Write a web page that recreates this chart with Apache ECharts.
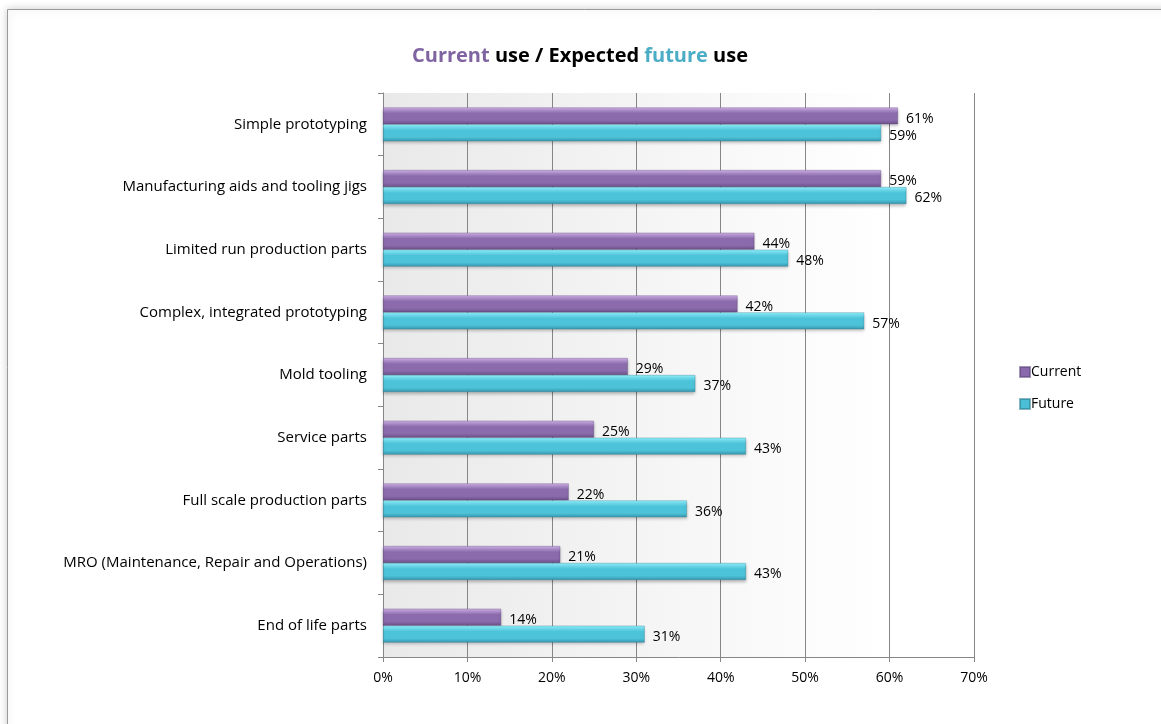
<!DOCTYPE html>
<html>
<head>
<meta charset="utf-8">
<script src="https://cdn.jsdelivr.net/npm/echarts@6/dist/echarts.min.js"></script>
<style>
  html, body { margin: 0; padding: 0; background: #ffffff; }
  #chart { width: 1161px; height: 724px; }
</style>
</head>
<body>
<div id="chart"></div>
<script>
// Survey: current vs. expected future use of additive manufacturing
const categories = [
  'Simple prototyping',
  'Manufacturing aids and tooling jigs',
  'Limited run production parts',
  'Complex, integrated prototyping',
  'Mold tooling',
  'Service parts',
  'Full scale production parts',
  'MRO (Maintenance, Repair and Operations)',
  'End of life parts'
];
const currentUse = [61, 59, 44, 42, 29, 25, 22, 21, 14];
const futureUse  = [59, 62, 48, 57, 37, 43, 36, 43, 31];
const xTicks = [0, 10, 20, 30, 40, 50, 60, 70];

const FONT = '"Open Sans", "Noto Sans", sans-serif';

function tube(top, mid, bottom) {
  return new echarts.graphic.LinearGradient(0, 0, 0, 1, [
    { offset: 0, color: top },
    { offset: 0.35, color: mid },
    { offset: 0.75, color: mid },
    { offset: 1, color: bottom }
  ]);
}

const chart = echarts.init(document.getElementById('chart'), null, { renderer: 'canvas' });

chart.setOption({
  backgroundColor: '#ffffff',
  animation: false,
  graphic: [
    {
      type: 'rect', z: -10, silent: true,
      shape: { x: 7.5, y: 9.5, width: 1200, height: 800 },
      style: { fill: '#ffffff', stroke: '#9a9a9a', lineWidth: 1,
               shadowBlur: 8, shadowColor: 'rgba(0,0,0,0.22)' }
    }
  ],
  title: {
    left: 575, top: 41, textAlign: 'center',
    text: '{c|Current} use / Expected {f|future} use',
    textStyle: {
      fontFamily: FONT, fontSize: 20, fontWeight: 'bold', color: '#000',
      rich: {
        c: { fontFamily: FONT, fontSize: 20, fontWeight: 'bold', color: '#8064a2' },
        f: { fontFamily: FONT, fontSize: 20, fontWeight: 'bold', color: '#4bacc6' }
      }
    }
  },
  legend: {
    orient: 'vertical', left: 1014, top: 360,
    itemWidth: 10, itemHeight: 10, itemGap: 18,
    icon: 'rect',
    textStyle: { fontFamily: FONT, fontSize: 14, color: '#000', padding: [0, 0, 0, -4] },
    data: [
      { name: 'Current', itemStyle: { color: '#8a6aad' } },
      { name: 'Future', itemStyle: { color: '#4bbfd6' } }
    ]
  },
  grid: {
    left: 383, right: 187, top: 93, bottom: 67,
    show: true, borderWidth: 0,
    backgroundColor: new echarts.graphic.LinearGradient(0, 0, 1, 0, [
      { offset: 0, color: '#e9e9e9' },
      { offset: 0.85, color: '#ffffff' },
      { offset: 1, color: '#ffffff' }
    ])
  },
  xAxis: {
    type: 'value', min: xTicks[0], max: xTicks[xTicks.length - 1], interval: 10,
    axisLine: { show: true, lineStyle: { color: '#868686' } },
    axisTick: { show: true, length: 5, lineStyle: { color: '#868686' } },
    splitLine: { show: true, lineStyle: { color: '#868686', width: 1 } },
    axisLabel: { fontFamily: FONT, fontSize: 14, color: '#000', margin: 14,
                 formatter: v => v + '%' }
  },
  yAxis: {
    type: 'category', inverse: true, data: categories,
    axisLine: { show: true, lineStyle: { color: '#868686' } },
    axisTick: { show: true, length: 5, lineStyle: { color: '#868686' } },
    axisLabel: { fontFamily: FONT, fontSize: 15, color: '#000', margin: 16 }
  },
  series: [
    {
      name: 'Current', type: 'bar', data: currentUse,
      barWidth: 17, barGap: '0%',
      itemStyle: {
        color: tube('#d2b3ea', '#8b6bac', '#6a4f88'),
        borderColor: 'rgba(90,65,120,0.55)', borderWidth: 0.6,
        shadowBlur: 3, shadowOffsetY: 2, shadowColor: 'rgba(0,0,0,0.25)'
      },
      label: {
        show: true, position: 'right', distance: 8, offset: [0, 3],
        fontFamily: FONT, fontSize: 14, color: '#000',
        formatter: p => p.value + '%'
      }
    },
    {
      name: 'Future', type: 'bar', data: futureUse,
      barWidth: 17,
      itemStyle: {
        color: tube('#93f3ff', '#4cc3d9', '#3796ad'),
        borderColor: 'rgba(40,120,140,0.55)', borderWidth: 0.6,
        shadowBlur: 3, shadowOffsetY: 2, shadowColor: 'rgba(0,0,0,0.25)'
      },
      label: {
        show: true, position: 'right', distance: 8, offset: [0, 3],
        fontFamily: FONT, fontSize: 14, color: '#000',
        formatter: p => p.value + '%'
      }
    }
  ]
});
</script>
</body>
</html>
